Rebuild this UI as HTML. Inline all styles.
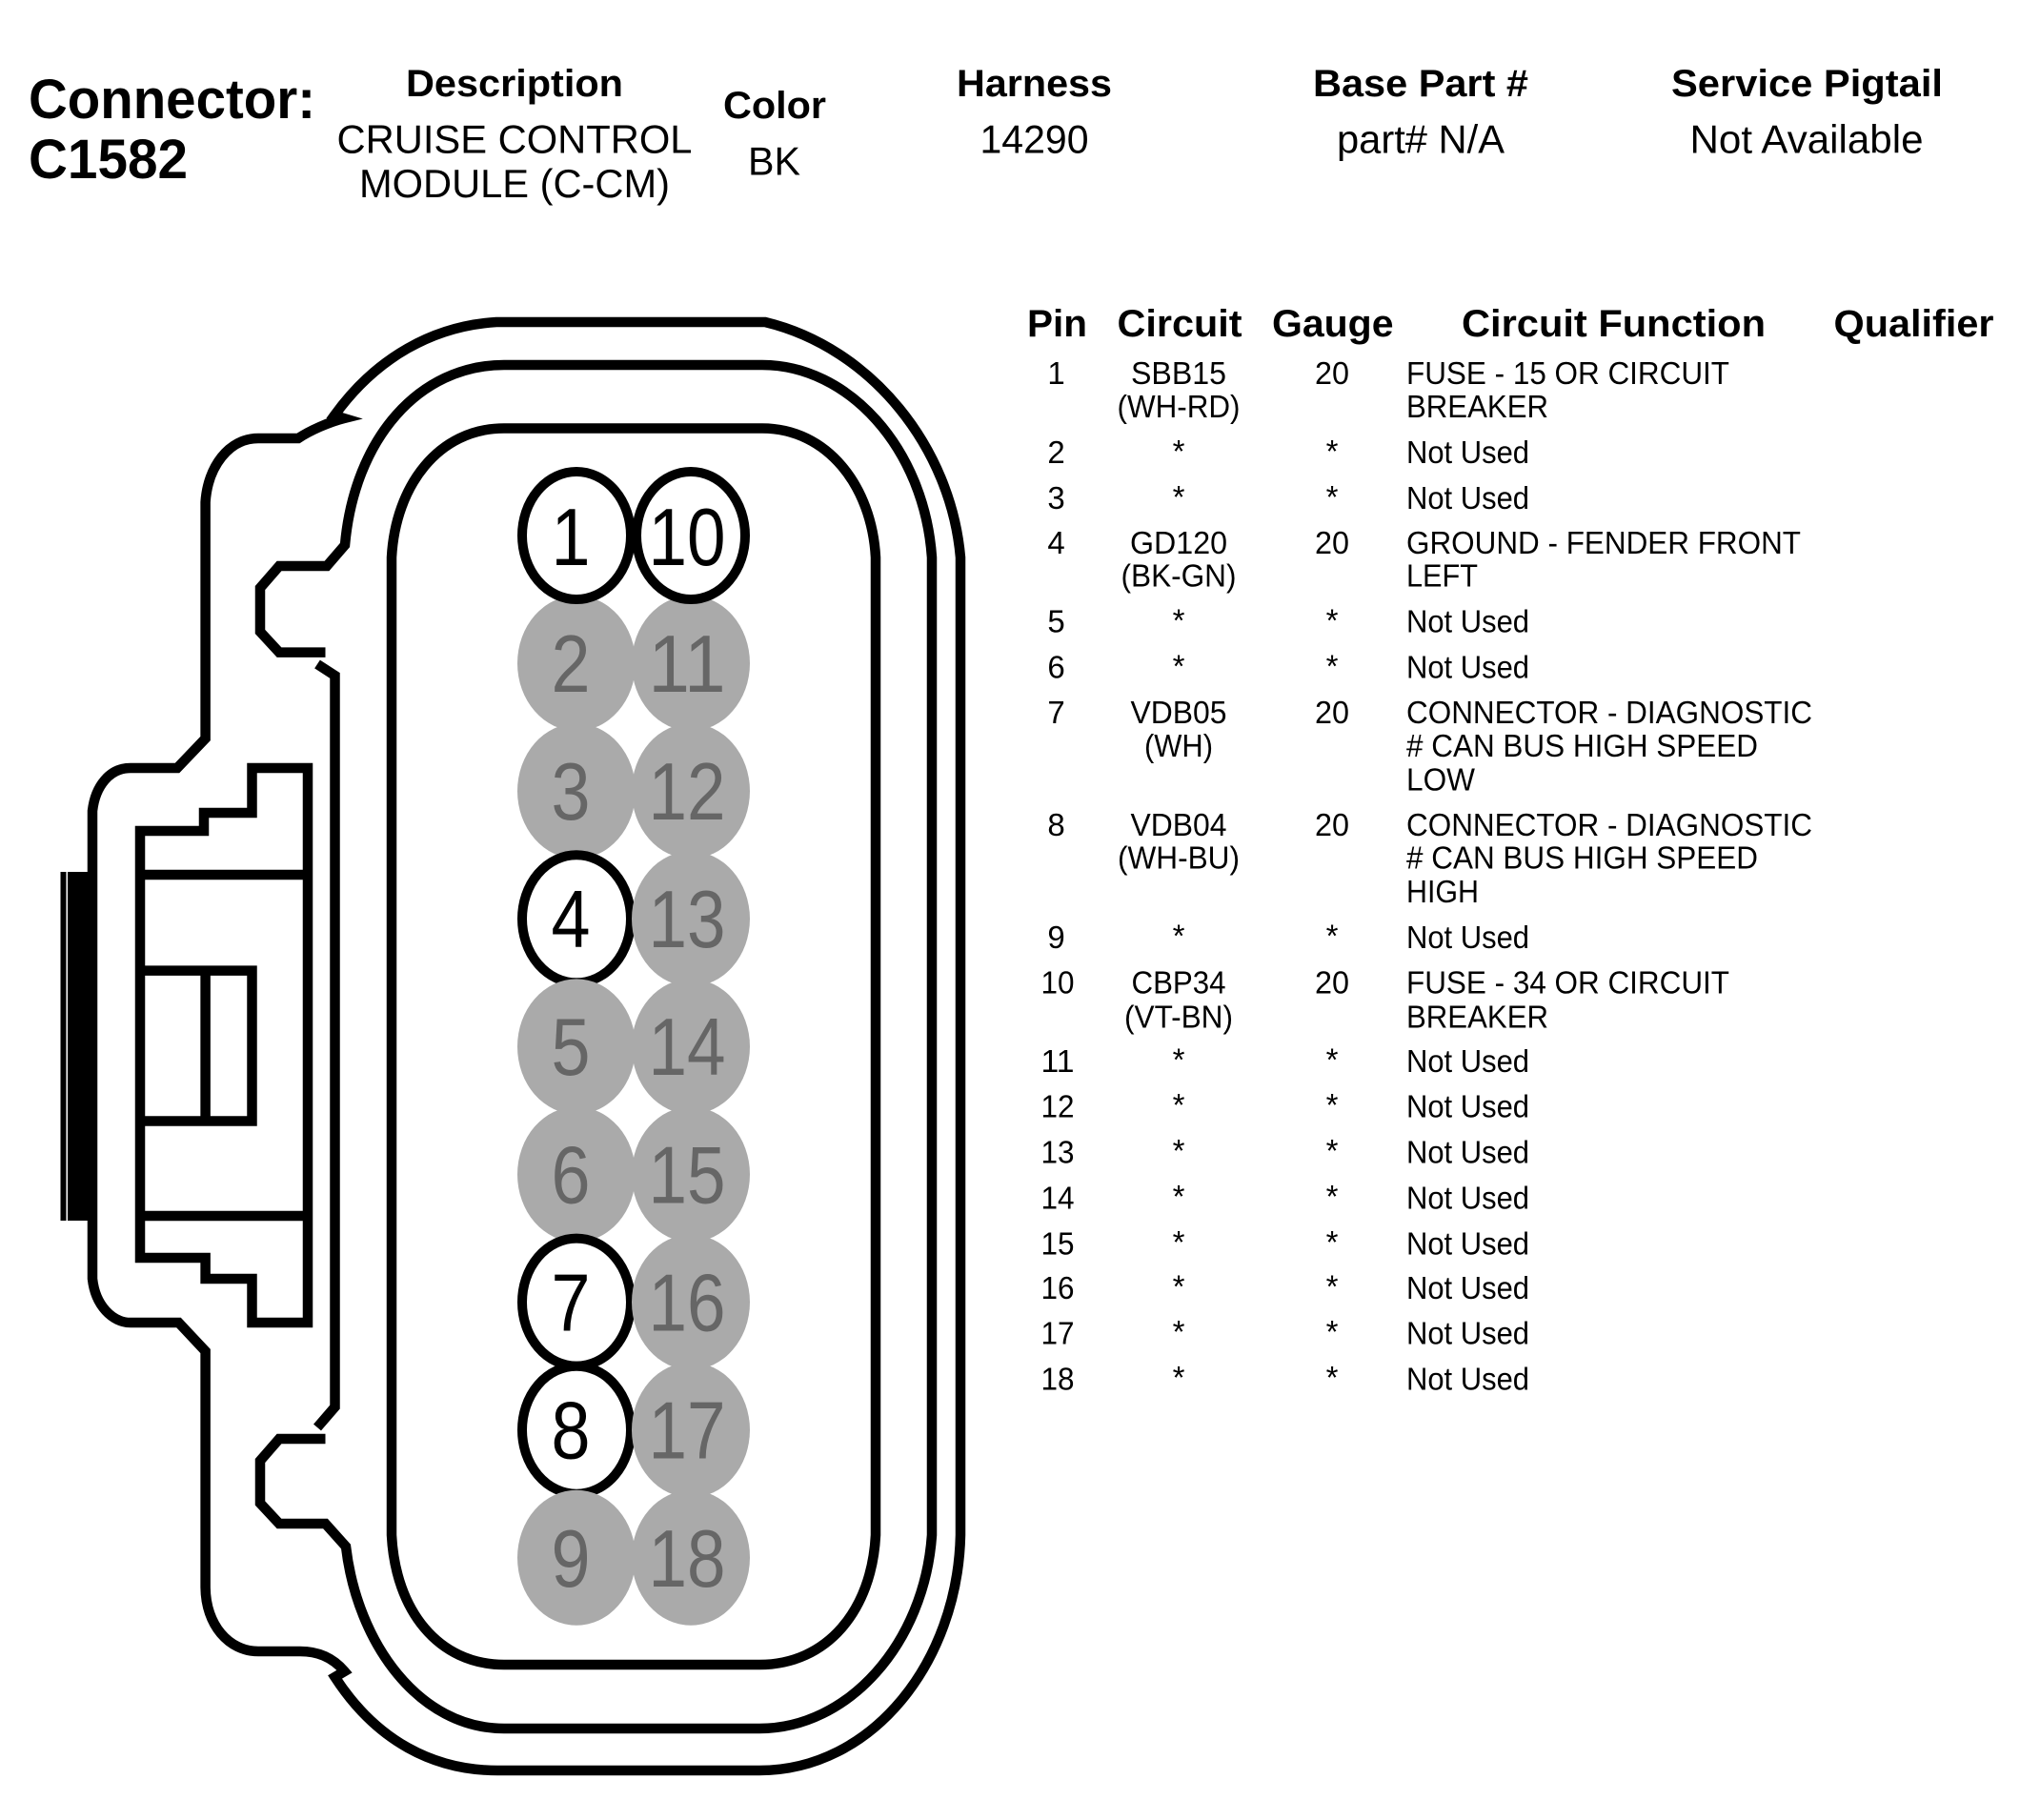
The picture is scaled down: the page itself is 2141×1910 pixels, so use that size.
<!DOCTYPE html>
<html><head><meta charset="utf-8"><style>
html,body{margin:0;padding:0;background:#fff}
svg{display:block}
text{font-family:"Liberation Sans",sans-serif;fill:#000}
.b{font-weight:bold;font-size:40px}
.h{font-size:42px}
.t{font-weight:bold;font-size:40px}
.r{font-size:33px}
.m{text-anchor:middle}
.n{font-size:85px;text-anchor:middle}
.g{fill:#666}
path,line{fill:none;stroke:#000;stroke-width:10.5;stroke-linejoin:miter}
ellipse.w{fill:#fff;stroke:#000;stroke-width:10}
ellipse.y{fill:#aaa;stroke:none}
</style></head><body>
<svg xmlns="http://www.w3.org/2000/svg" width="2141" height="1910" viewBox="0 0 2141 1910">
<rect width="2141" height="1910" fill="#fff"/>
<!-- header -->
<text x="30" y="124" font-weight="bold" font-size="58" textLength="301" lengthAdjust="spacingAndGlyphs">Connector:</text>
<text x="30" y="187" font-weight="bold" font-size="58" textLength="167" lengthAdjust="spacingAndGlyphs">C1582</text>
<text x="426" y="101" class="b" textLength="228" lengthAdjust="spacingAndGlyphs">Description</text>
<text x="353.5" y="160.5" class="h" textLength="373" lengthAdjust="spacingAndGlyphs">CRUISE CONTROL</text>
<text x="377" y="207" class="h" textLength="326" lengthAdjust="spacingAndGlyphs">MODULE (C-CM)</text>
<text x="759" y="124" class="b" textLength="108" lengthAdjust="spacingAndGlyphs">Color</text>
<text x="785" y="183.5" class="h" textLength="55" lengthAdjust="spacingAndGlyphs">BK</text>
<text x="1004" y="101" class="b" textLength="163" lengthAdjust="spacingAndGlyphs">Harness</text>
<text x="1028.5" y="160.7" class="h" textLength="114" lengthAdjust="spacingAndGlyphs">14290</text>
<text x="1378" y="101" class="b" textLength="226" lengthAdjust="spacingAndGlyphs">Base Part #</text>
<text x="1403" y="160.7" class="h" textLength="176" lengthAdjust="spacingAndGlyphs">part# N/A</text>
<text x="1754" y="101" class="b" textLength="285" lengthAdjust="spacingAndGlyphs">Service Pigtail</text>
<text x="1773.5" y="160.7" class="h" textLength="245" lengthAdjust="spacingAndGlyphs">Not Available</text>
<!-- table header -->
<text x="1078" y="353" class="t" textLength="63" lengthAdjust="spacingAndGlyphs">Pin</text>
<text x="1172.5" y="353" class="t" textLength="131" lengthAdjust="spacingAndGlyphs">Circuit</text>
<text x="1335" y="353" class="t" textLength="127.5" lengthAdjust="spacingAndGlyphs">Gauge</text>
<text x="1534" y="353" class="t" textLength="319" lengthAdjust="spacingAndGlyphs">Circuit Function</text>
<text x="1924.5" y="353" class="t" textLength="168" lengthAdjust="spacingAndGlyphs">Qualifier</text>
<!-- rows -->
<g class="r">
<text x="1108.5" y="403" class="r m">1</text><text x="1237" y="403" class="r m" textLength="100" lengthAdjust="spacingAndGlyphs">SBB15</text><text x="1398" y="403" class="r m" textLength="36" lengthAdjust="spacingAndGlyphs">20</text><text x="1476" y="403" class="r" textLength="339" lengthAdjust="spacingAndGlyphs">FUSE - 15 OR CIRCUIT</text>
<text x="1237" y="438" class="r m" textLength="129" lengthAdjust="spacingAndGlyphs">(WH-RD)</text><text x="1476" y="438" class="r" textLength="149" lengthAdjust="spacingAndGlyphs">BREAKER</text>
<text x="1108.5" y="486" class="r m">2</text><text x="1237" y="485" class="r m">*</text><text x="1398" y="485" class="r m">*</text><text x="1476" y="486" class="r" textLength="129" lengthAdjust="spacingAndGlyphs">Not Used</text>
<text x="1108.5" y="534" class="r m">3</text><text x="1237" y="533" class="r m">*</text><text x="1398" y="533" class="r m">*</text><text x="1476" y="534" class="r" textLength="129" lengthAdjust="spacingAndGlyphs">Not Used</text>
<text x="1108.5" y="581" class="r m">4</text><text x="1237" y="581" class="r m" textLength="102" lengthAdjust="spacingAndGlyphs">GD120</text><text x="1398" y="581" class="r m" textLength="36" lengthAdjust="spacingAndGlyphs">20</text><text x="1476" y="581" class="r" textLength="414" lengthAdjust="spacingAndGlyphs">GROUND - FENDER FRONT</text>
<text x="1237" y="615.5" class="r m" textLength="121" lengthAdjust="spacingAndGlyphs">(BK-GN)</text><text x="1476" y="615.5" class="r" textLength="75" lengthAdjust="spacingAndGlyphs">LEFT</text>
<text x="1108.5" y="663.5" class="r m">5</text><text x="1237" y="662.5" class="r m">*</text><text x="1398" y="662.5" class="r m">*</text><text x="1476" y="663.5" class="r" textLength="129" lengthAdjust="spacingAndGlyphs">Not Used</text>
<text x="1108.5" y="711.5" class="r m">6</text><text x="1237" y="710.5" class="r m">*</text><text x="1398" y="710.5" class="r m">*</text><text x="1476" y="711.5" class="r" textLength="129" lengthAdjust="spacingAndGlyphs">Not Used</text>
<text x="1108.5" y="759" class="r m">7</text><text x="1237" y="759" class="r m" textLength="101" lengthAdjust="spacingAndGlyphs">VDB05</text><text x="1398" y="759" class="r m" textLength="36" lengthAdjust="spacingAndGlyphs">20</text><text x="1476" y="759" class="r" textLength="426" lengthAdjust="spacingAndGlyphs">CONNECTOR - DIAGNOSTIC</text>
<text x="1237" y="794" class="r m" textLength="72" lengthAdjust="spacingAndGlyphs">(WH)</text><text x="1476" y="794" class="r" textLength="369" lengthAdjust="spacingAndGlyphs"># CAN BUS HIGH SPEED</text>
<text x="1476" y="829.5" class="r" textLength="72" lengthAdjust="spacingAndGlyphs">LOW</text>
<text x="1108.5" y="877" class="r m">8</text><text x="1237" y="877" class="r m" textLength="101" lengthAdjust="spacingAndGlyphs">VDB04</text><text x="1398" y="877" class="r m" textLength="36" lengthAdjust="spacingAndGlyphs">20</text><text x="1476" y="877" class="r" textLength="426" lengthAdjust="spacingAndGlyphs">CONNECTOR - DIAGNOSTIC</text>
<text x="1237" y="911.5" class="r m" textLength="128" lengthAdjust="spacingAndGlyphs">(WH-BU)</text><text x="1476" y="911.5" class="r" textLength="369" lengthAdjust="spacingAndGlyphs"># CAN BUS HIGH SPEED</text>
<text x="1476" y="947" class="r" textLength="76" lengthAdjust="spacingAndGlyphs">HIGH</text>
<text x="1108.5" y="995" class="r m">9</text><text x="1237" y="993.5" class="r m">*</text><text x="1398" y="993.5" class="r m">*</text><text x="1476" y="995" class="r" textLength="129" lengthAdjust="spacingAndGlyphs">Not Used</text>
<text x="1110" y="1042.5" class="r m" textLength="35" lengthAdjust="spacingAndGlyphs">10</text><text x="1237" y="1042.5" class="r m" textLength="99" lengthAdjust="spacingAndGlyphs">CBP34</text><text x="1398" y="1042.5" class="r m" textLength="36" lengthAdjust="spacingAndGlyphs">20</text><text x="1476" y="1042.5" class="r" textLength="339" lengthAdjust="spacingAndGlyphs">FUSE - 34 OR CIRCUIT</text>
<text x="1237" y="1078.5" class="r m" textLength="114" lengthAdjust="spacingAndGlyphs">(VT-BN)</text><text x="1476" y="1078.5" class="r" textLength="149" lengthAdjust="spacingAndGlyphs">BREAKER</text>
<text x="1110" y="1125" class="r m" textLength="35" lengthAdjust="spacingAndGlyphs">11</text><text x="1237" y="1123.5" class="r m">*</text><text x="1398" y="1123.5" class="r m">*</text><text x="1476" y="1125" class="r" textLength="129" lengthAdjust="spacingAndGlyphs">Not Used</text>
<text x="1110" y="1172.5" class="r m" textLength="35" lengthAdjust="spacingAndGlyphs">12</text><text x="1237" y="1171" class="r m">*</text><text x="1398" y="1171" class="r m">*</text><text x="1476" y="1172.5" class="r" textLength="129" lengthAdjust="spacingAndGlyphs">Not Used</text>
<text x="1110" y="1220.5" class="r m" textLength="35" lengthAdjust="spacingAndGlyphs">13</text><text x="1237" y="1219" class="r m">*</text><text x="1398" y="1219" class="r m">*</text><text x="1476" y="1220.5" class="r" textLength="129" lengthAdjust="spacingAndGlyphs">Not Used</text>
<text x="1110" y="1268.5" class="r m" textLength="35" lengthAdjust="spacingAndGlyphs">14</text><text x="1237" y="1267" class="r m">*</text><text x="1398" y="1267" class="r m">*</text><text x="1476" y="1268.5" class="r" textLength="129" lengthAdjust="spacingAndGlyphs">Not Used</text>
<text x="1110" y="1316.5" class="r m" textLength="35" lengthAdjust="spacingAndGlyphs">15</text><text x="1237" y="1315" class="r m">*</text><text x="1398" y="1315" class="r m">*</text><text x="1476" y="1316.5" class="r" textLength="129" lengthAdjust="spacingAndGlyphs">Not Used</text>
<text x="1110" y="1363" class="r m" textLength="35" lengthAdjust="spacingAndGlyphs">16</text><text x="1237" y="1361.5" class="r m">*</text><text x="1398" y="1361.5" class="r m">*</text><text x="1476" y="1363" class="r" textLength="129" lengthAdjust="spacingAndGlyphs">Not Used</text>
<text x="1110" y="1410.5" class="r m" textLength="35" lengthAdjust="spacingAndGlyphs">17</text><text x="1237" y="1409" class="r m">*</text><text x="1398" y="1409" class="r m">*</text><text x="1476" y="1410.5" class="r" textLength="129" lengthAdjust="spacingAndGlyphs">Not Used</text>
<text x="1110" y="1458.5" class="r m" textLength="35" lengthAdjust="spacingAndGlyphs">18</text><text x="1237" y="1457" class="r m">*</text><text x="1398" y="1457" class="r m">*</text><text x="1476" y="1458.5" class="r" textLength="129" lengthAdjust="spacingAndGlyphs">Not Used</text>
</g>
<!-- connector outline -->
<rect x="63.5" y="915" width="6" height="366" fill="#000"/>
<rect x="71" y="915" width="30" height="366" fill="#000"/>
<path d="M521 338 L803 338 C915 365 998 470 1008 585 L1008 1611 C1005 1745 915 1858 797 1858 L522 1858 C455 1858 395 1827 351.5 1760 L361.6 1754 C348 1738 332 1733 315 1733 L271 1733 C240 1733 216 1705 215.6 1666 L215.6 1418 L187.5 1388 L137 1388 C118 1388 100 1370 97 1342 L97 851 C100 825 115 806 137 806 L186 806 L215.6 775 L215.6 527 C218 490 240 460 271 460 L313 460 C325 452 345 443 361 439 L351 436 C395 375 455 342 521 338 Z"/>
<path d="M341.5 684.6 L293 684.6 L273 663 L273 617 L293 594 L343 594 L362 572 C372 460 440 383 529 383 L800 383 C890 383 970 470 978 585 L978 1611 C970 1725 890 1814 797 1814 L529 1814 C440 1814 375 1725 363 1623 L341.5 1599 L293 1599 L273 1577.5 L273 1533 L293 1510 L341.5 1510 M333 1498 L351.5 1476.5 L351.5 709 L333 697"/>
<path d="M529 449.5 L800 449.5 C868 449.5 915 510 919 585 L919 1611 C915 1690 868 1747 797 1747 L529 1747 C460 1747 415 1690 411 1611 L411 585 C415 510 460 449.5 529 449.5 Z"/>
<path d="M147 872 L214 872 L214 853 L264.5 853 L264.5 806 L323 806 L323 1388 L264.5 1388 L264.5 1342 L215.6 1342 L215.6 1320 L147 1320 Z"/>
<line x1="147" y1="918" x2="323" y2="918"/>
<line x1="147" y1="1276" x2="323" y2="1276"/>
<path d="M147 1018.6 L264.5 1018.6 L264.5 1176.5 L147 1176.5"/>
<line x1="215.6" y1="1018.6" x2="215.6" y2="1176.5"/>
<!-- pins -->
<ellipse class="y" cx="605" cy="696.1" rx="62" ry="71"/>
<ellipse class="y" cx="605" cy="830.2" rx="62" ry="71"/>
<ellipse class="y" cx="605" cy="1232.5" rx="62" ry="71"/>
<ellipse class="w" cx="605" cy="562" rx="57" ry="67"/>
<ellipse class="w" cx="605" cy="964.3" rx="57" ry="67"/>
<ellipse class="w" cx="605" cy="1366.6" rx="57" ry="67"/>
<ellipse class="w" cx="605" cy="1500.7" rx="57" ry="67"/>
<ellipse class="y" cx="605" cy="1098.4" rx="62" ry="71"/>
<ellipse class="y" cx="605" cy="1634.8" rx="62" ry="71"/>
<ellipse class="y" cx="725" cy="696.1" rx="62" ry="71"/>
<ellipse class="y" cx="725" cy="830.2" rx="62" ry="71"/>
<ellipse class="y" cx="725" cy="964.3" rx="62" ry="71"/>
<ellipse class="y" cx="725" cy="1098.4" rx="62" ry="71"/>
<ellipse class="y" cx="725" cy="1232.5" rx="62" ry="71"/>
<ellipse class="y" cx="725" cy="1366.6" rx="62" ry="71"/>
<ellipse class="y" cx="725" cy="1500.7" rx="62" ry="71"/>
<ellipse class="y" cx="725" cy="1634.8" rx="62" ry="71"/>
<ellipse class="w" cx="725" cy="562" rx="57" ry="67"/>
<text x="599" y="593" class="n" textLength="41" lengthAdjust="spacingAndGlyphs">1</text>
<text x="599" y="726" class="n g" textLength="41" lengthAdjust="spacingAndGlyphs">2</text>
<text x="599" y="860" class="n g" textLength="41" lengthAdjust="spacingAndGlyphs">3</text>
<text x="599" y="994" class="n" textLength="41" lengthAdjust="spacingAndGlyphs">4</text>
<text x="599" y="1128" class="n g" textLength="41" lengthAdjust="spacingAndGlyphs">5</text>
<text x="599" y="1262.5" class="n g" textLength="41" lengthAdjust="spacingAndGlyphs">6</text>
<text x="599" y="1396.5" class="n" textLength="41" lengthAdjust="spacingAndGlyphs">7</text>
<text x="599" y="1530.5" class="n" textLength="41" lengthAdjust="spacingAndGlyphs">8</text>
<text x="599" y="1665" class="n g" textLength="41" lengthAdjust="spacingAndGlyphs">9</text>
<text x="721" y="593" class="n" textLength="81" lengthAdjust="spacingAndGlyphs">10</text>
<text x="721" y="726" class="n g" textLength="81" lengthAdjust="spacingAndGlyphs">11</text>
<text x="721" y="860" class="n g" textLength="81" lengthAdjust="spacingAndGlyphs">12</text>
<text x="721" y="994" class="n g" textLength="81" lengthAdjust="spacingAndGlyphs">13</text>
<text x="721" y="1128" class="n g" textLength="81" lengthAdjust="spacingAndGlyphs">14</text>
<text x="721" y="1262.5" class="n g" textLength="81" lengthAdjust="spacingAndGlyphs">15</text>
<text x="721" y="1396.5" class="n g" textLength="81" lengthAdjust="spacingAndGlyphs">16</text>
<text x="721" y="1530.5" class="n g" textLength="81" lengthAdjust="spacingAndGlyphs">17</text>
<text x="721" y="1665" class="n g" textLength="81" lengthAdjust="spacingAndGlyphs">18</text>
</svg>
</body></html>
